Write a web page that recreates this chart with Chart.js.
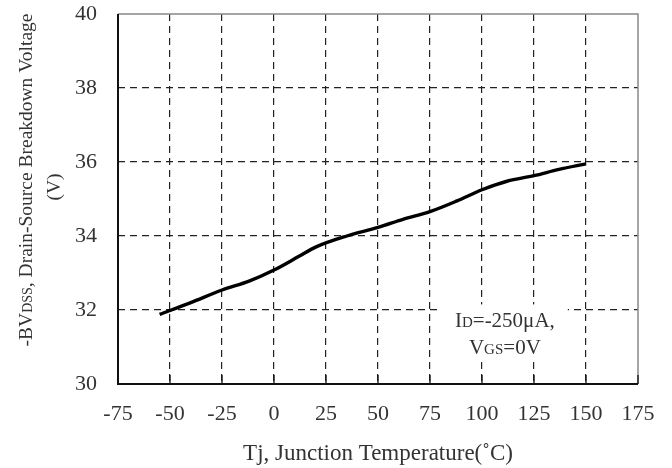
<!DOCTYPE html>
<html><head><meta charset="utf-8">
<script src="https://cdn.jsdelivr.net/npm/chart.js@4/dist/chart.umd.min.js"></script>
<style>html,body{margin:0;padding:0;background:#fff;}#wrap{width:672px;height:468px;}</style>
</head><body><div id="wrap"><canvas id="c" width="672" height="468"></canvas></div>
<script>
const tempC = [-55, -40, -25, -12, 0, 12, 20, 35, 50, 62, 75, 88, 100, 112, 125, 137, 150];
const bvdss = [31.88, 32.2, 32.54, 32.78, 33.08, 33.45, 33.7, 34.0, 34.23, 34.45, 34.66, 34.95, 35.25, 35.48, 35.63, 35.8, 35.95];
const xTicks = [-75, -50, -25, 0, 25, 50, 75, 100, 125, 150, 175];
const yTicks = [30, 32, 34, 36, 38, 40];

const TXT = '#333';
const SERIF = '"Liberation Serif","DejaVu Serif",serif';

function measureRich(ctx, parts) {
  let w = 0;
  parts.forEach(p => { ctx.font = p[1] + 'px ' + SERIF; w += ctx.measureText(p[0]).width; });
  return w;
}
function drawRich(ctx, parts, x, y, align) {
  const w = measureRich(ctx, parts);
  let cx = align === 'center' ? x - w / 2 : x;
  parts.forEach(p => {
    ctx.font = p[1] + 'px ' + SERIF;
    ctx.fillText(p[0], cx, y + (p[2] || 0));
    cx += ctx.measureText(p[0]).width;
  });
}

const line1 = [['I', 21], ['D', 15], ['=-250\u03BCA,', 21]];
const line2 = [['V', 21], ['GS', 15], ['=0V', 21]];
const annoX = 111, annoY1 = 31.53, annoY2 = 30.8;

const deco = {
  id: 'deco',
  beforeDatasetsDraw(chart) {
    const ctx = chart.ctx, xs = chart.scales.x, ys = chart.scales.y;
    const ax = xs.getPixelForValue(annoX);
    const y1 = ys.getPixelForValue(annoY1), y2 = ys.getPixelForValue(annoY2);
    const w = Math.max(measureRich(ctx, line1), measureRich(ctx, line2)) + 26;
    ctx.save();
    ctx.fillStyle = '#fff';
    ctx.fillRect(ax - w / 2, y1 - 23, w, (y2 + 3) - (y1 - 23));
    ctx.restore();
  },
  afterDatasetsDraw(chart) {
    const ctx = chart.ctx, a = chart.chartArea, xs = chart.scales.x, ys = chart.scales.y;
    ctx.save();
    ctx.strokeStyle = '#888'; ctx.lineWidth = 1.5;
    ctx.beginPath(); ctx.moveTo(a.left, a.top); ctx.lineTo(a.right, a.top); ctx.lineTo(a.right, a.bottom); ctx.stroke();
    ctx.strokeStyle = '#111'; ctx.lineWidth = 2;
    ctx.beginPath(); ctx.moveTo(a.left, a.top); ctx.lineTo(a.left, a.bottom); ctx.lineTo(a.right, a.bottom); ctx.stroke();
    ctx.lineWidth = 1.3;
    xTicks.forEach(v => {
      const px = xs.getPixelForValue(v);
      ctx.beginPath(); ctx.moveTo(px, a.bottom); ctx.lineTo(px, a.bottom - 9); ctx.stroke();
    });
    ctx.fillStyle = TXT; ctx.textBaseline = 'alphabetic';
    const ax = xs.getPixelForValue(annoX);
    drawRich(ctx, line1, ax, ys.getPixelForValue(annoY1), 'center');
    drawRich(ctx, line2, ax, ys.getPixelForValue(annoY2), 'center');
    drawRich(ctx, [['Tj, Junction Temperature(\u02DAC)', 23]], (a.left + a.right) / 2, 460, 'center');
    const cy = (a.top + a.bottom) / 2 - 19;
    ctx.save();
    ctx.translate(32, cy); ctx.rotate(-Math.PI / 2);
    drawRich(ctx, [['-BV', 19.5], ['DSS', 14], [', Drain-Source Breakdown Voltage', 19.5]], 0, 0, 'center');
    ctx.restore();
    ctx.save();
    ctx.translate(60, cy + 7); ctx.rotate(-Math.PI / 2);
    drawRich(ctx, [['(V)', 19.5]], 0, 0, 'center');
    ctx.restore();
    ctx.restore();
  }
};

const gridColor = (ctx) => {
  const v = ctx.tick && ctx.tick.value;
  const s = ctx.scale;
  if (v === s.min || v === s.max) return 'rgba(0,0,0,0)';
  return '#222';
};

new Chart(document.getElementById('c'), {
  type: 'line',
  data: {
    datasets: [{
      data: tempC.map((t, i) => ({ x: t, y: bvdss[i] })),
      borderColor: '#000', borderWidth: 3.4, pointRadius: 0,
      cubicInterpolationMode: 'monotone', fill: false
    }]
  },
  options: {
    responsive: false, animation: false,
    layout: { padding: { top: 14, right: 34, left: 0, bottom: 0 } },
    plugins: { legend: { display: false }, tooltip: { enabled: false } },
    scales: {
      x: {
        type: 'linear', min: -75, max: 175,
        afterBuildTicks: s => { s.ticks = xTicks.map(v => ({ value: v })); },
        afterFit: s => { s.height = 84; s.paddingLeft = 0; s.paddingRight = 0; },
        border: { display: false, dash: [7, 5] },
        grid: { color: gridColor, lineWidth: 1.2, drawTicks: false },
        ticks: { color: TXT, font: { family: SERIF, size: 22 }, padding: 17, maxRotation: 0, autoSkip: false }
      },
      y: {
        type: 'linear', min: 30, max: 40,
        afterBuildTicks: s => { s.ticks = yTicks.map(v => ({ value: v })); },
        afterFit: s => { s.width = 118; s.paddingTop = 0; s.paddingBottom = 0; },
        border: { display: false, dash: [7, 5] },
        grid: { color: gridColor, lineWidth: 1.2, drawTicks: false },
        ticks: { color: TXT, font: { family: SERIF, size: 22 }, padding: 21, autoSkip: false }
      }
    }
  },
  plugins: [deco]
});
</script></body></html>
